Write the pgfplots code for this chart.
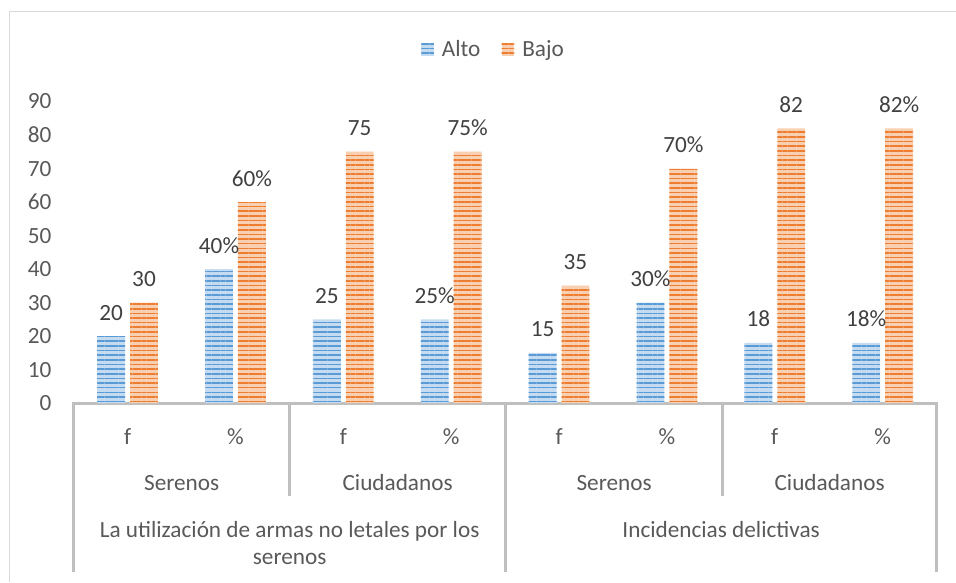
\documentclass[border=0pt]{standalone}
\usepackage{pgfplots}
\pgfplotsset{compat=1.18}
\usepackage{fontspec}
\setmainfont{Carlito}
\usetikzlibrary{patterns.meta}
\definecolor{altoC}{HTML}{5B9BD5}
\definecolor{altoL}{HTML}{C4DBF1}
\definecolor{bajoC}{HTML}{ED7D31}
\definecolor{bajoL}{HTML}{F9CFB2}
\definecolor{txt}{HTML}{595959}
\definecolor{lbl}{HTML}{404040}
\definecolor{axl}{HTML}{BFBFBF}
\definecolor{brd}{HTML}{D9D9D9}
\newcommand{\fs}{\fontsize{17.5}{21}\selectfont}
\begin{document}
\begin{tikzpicture}
\begin{scope}[shift={(-55.5pt,303.75pt)},x=0.75pt,y=-0.75pt]
\useasboundingbox (0,0) rectangle (956,580);
\end{scope}
\begin{axis}[
  at={(0,0)}, anchor=south west,
  scale only axis, width=650.25pt, height=227.25pt,
  xmin=0, xmax=8, ymin=0, ymax=90,
  ybar=3.75pt, bar width=21pt,
  axis lines*=left,
  x axis line style={draw=axl, line width=2.25pt},
  y axis line style={draw=none},
  xtick=\empty,
  ytick={0,10,...,90},
  ytick style={draw=none},
  /pgf/number format/assume math mode=true,
  yticklabel style={font=\fs, text=txt, inner sep=0pt, anchor=east, xshift=-16.5pt},
  clip=false,
  point meta=explicit symbolic,
  nodes near coords,
  every node near coord/.append style={font=\fs, text=lbl, inner sep=0pt, anchor=base, yshift=12pt},
  legend columns=2,
  legend style={draw=none, fill=none, at={(0.487,1.1716)}, anchor=center, font=\fs, text=txt,
    /tikz/every even column/.append style={column sep=14pt}},
  legend image code/.code={\path[#1, draw=none] (0pt,-4.75pt) rectangle (9.5pt,4.75pt); \path (0pt,0pt) -- (13.5pt,0pt);},
]
\addplot[draw=none, fill=altoL, postaction={pattern={Lines[angle=0,distance=3.5pt,line width=1.2pt]}, pattern color=altoC}]
 coordinates {(0.5,20) [20] (1.5,40) [40\%] (2.5,25) [25] (3.5,25) [25\%]
              (4.5,15) [15] (5.5,30) [30\%] (6.5,18) [18] (7.5,18) [18\%]};
\addplot[draw=none, fill=bajoL, postaction={pattern={Lines[angle=0,distance=3.5pt,line width=1.2pt]}, pattern color=bajoC}]
 coordinates {(0.5,30) [30] (1.5,60) [60\%] (2.5,75) [75] (3.5,75) [75\%]
              (4.5,35) [35] (5.5,70) [70\%] (6.5,82) [82] (7.5,82) [82\%]};
\legend{Alto,Bajo}
\end{axis}
\begin{scope}[shift={(-55.5pt,303.75pt)},x=0.75pt,y=-0.75pt]
\draw[brd, line width=0.75pt] (10,585) -- (10,12) -- (960,12);
\draw[axl, line width=2.25pt] (74,404) -- (74,575);
\draw[axl, line width=2.25pt] (941,404) -- (941,575);
\draw[axl, line width=2.25pt] (508,405) -- (508,575);
\draw[axl, line width=2.25pt] (291,405) -- (291,498);
\draw[axl, line width=2.25pt] (726,405) -- (726,498);
\foreach \cx/\t in {128.2/f,236.6/\%,345/f,453.3/\%,561.7/f,670/\%,778.4/f,886.8/\%}
  \node[font=\fs, text=txt, anchor=base, inner sep=0pt] at (\cx,447) {\t};
\foreach \cx/\t in {182.5/Serenos,399.5/Ciudadanos,617/Serenos,833.5/Ciudadanos}
  \node[font=\fs, text=txt, anchor=base, inner sep=0pt] at (\cx,493) {\t};
\node[font=\fs, text=txt, anchor=base, inner sep=0pt] at (291,540) {La utilización de armas no letales por los};
\node[font=\fs, text=txt, anchor=base, inner sep=0pt] at (291,567) {serenos};
\node[font=\fs, text=txt, anchor=base, inner sep=0pt] at (724.5,540) {Incidencias delictivas};
\end{scope}
\end{tikzpicture}
\end{document}
